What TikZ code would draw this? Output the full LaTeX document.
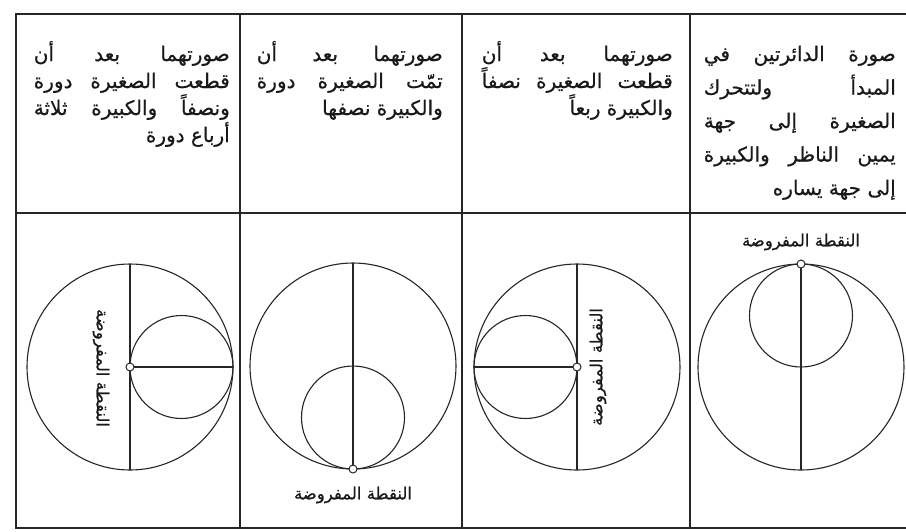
\documentclass[tikz,border=0pt]{standalone}
\usepackage{fontspec}
\newfontfamily\arabicfont[Script=Arabic,FakeBold=0.6]{DejaVu Sans}
\TeXXeTstate=1
\newcommand{\jline}[2]{\hbox to #1{\beginR #2\endR}}
\newcommand{\rline}[2]{\hbox to #1{\hfill\beginR #2\endR}}
\newcommand{\lines}[2]{\vtop{\baselineskip=#1\lineskiplimit=-20pt #2}}
\tikzset{
  frame/.style={line width=1.4pt, draw=black!85},
  geo/.style={line width=1.1pt, draw=black!85},
  marker/.style={circle, draw=black!85, line width=1pt, fill=white, inner sep=0pt, minimum size=8pt},
  head/.style={anchor=base east, inner sep=0pt, font=\arabicfont\fontsize{20}{26}\selectfont, text=black!90},
  lbl/.style={inner sep=0pt, font=\arabicfont\fontsize{16.5}{18}\selectfont, text=black!90},
}
\begin{document}
\begin{tikzpicture}[x=1pt,y=-1pt]
\useasboundingbox[fill=white] (0,0) rectangle (906,531);
% frame
\coordinate (tl) at (16,14);
\coordinate (tr) at (906,14);
\coordinate (bl) at (16,528);
\coordinate (br) at (906,528);
\coordinate (ml) at (16,213);
\coordinate (mr) at (906,213);
\draw[frame] (tr) -- (tl) -- (bl) -- (br);
\draw[frame] (ml) -- (mr);
\foreach \x/\n in {240/a,462/b,690/c}{
  \coordinate (d\n t) at (\x,14);
  \coordinate (d\n b) at (\x,528);
  \draw[frame] (d\n t) -- (d\n b);
}
% header texts
\node[head] (h1) at (230,61) {\lines{27pt}{%
  \jline{196pt}{صورتهما بعد أن}
  \jline{196pt}{قطعت الصغيرة دورة}
  \jline{196pt}{ونصفاً والكبيرة ثلاثة}
  \rline{196pt}{أرباع دورة}}};
\node[head] (h2) at (443,61) {\lines{27pt}{%
  \jline{186pt}{صورتهما بعد أن}
  \jline{186pt}{تمّت الصغيرة دورة}
  \rline{186pt}{والكبيرة نصفها}}};
\node[head] (h3) at (673,61) {\lines{27pt}{%
  \jline{191pt}{صورتهما بعد أن}
  \jline{191pt}{قطعت الصغيرة نصفاً}
  \rline{191pt}{والكبيرة ربعاً}}};
\node[head] (h4) at (896,61) {\lines{33.5pt}{%
  \jline{192pt}{صورة الدائرتين في}
  \jline{192pt}{المبدأ ولتتحرك}
  \jline{192pt}{الصغيرة إلى جهة}
  \jline{192pt}{يمين الناظر والكبيرة}
  \rline{192pt}{إلى جهة يساره}}};
% column 1
\coordinate (c1) at (130,367);
\coordinate (s1) at (181.5,367);
\coordinate (c1t) at (130,264);
\coordinate (c1b) at (130,470);
\coordinate (c1r) at (233,367);
\draw[geo] (c1) circle[radius=103];
\draw[geo] (s1) circle[radius=51.5];
\draw[geo] (c1t) -- (c1b);
\draw[geo] (c1) -- (c1r);
\node[marker] (p1) at (c1) {};
\node[lbl, rotate=-90] (l1) at (101,368) {\beginR النقطة المفروضة\endR};
% column 2
\coordinate (c2) at (353,366);
\coordinate (s2) at (353,417.5);
\coordinate (c2t) at (353,263);
\coordinate (c2b) at (353,469);
\draw[geo] (c2) circle[radius=103];
\draw[geo] (s2) circle[radius=51.5];
\draw[geo] (c2t) -- (c2b);
\node[marker] (p2) at (c2b) {};
\node[lbl] (l2) at (353,495) {\beginR النقطة المفروضة\endR};
% column 3
\coordinate (c3) at (577,367);
\coordinate (s3) at (525.5,367);
\coordinate (c3t) at (577,264);
\coordinate (c3b) at (577,470);
\coordinate (c3l) at (474,367);
\draw[geo] (c3) circle[radius=103];
\draw[geo] (s3) circle[radius=51.5];
\draw[geo] (c3t) -- (c3b);
\draw[geo] (c3l) -- (c3);
\node[marker] (p3) at (c3) {};
\node[lbl, rotate=90] (l3) at (598,367) {\beginR النقطة المفروضة\endR};
% column 4
\coordinate (c4) at (801,367);
\coordinate (s4) at (801,315.5);
\coordinate (c4t) at (801,264);
\coordinate (c4b) at (801,470);
\draw[geo] (c4) circle[radius=103];
\draw[geo] (s4) circle[radius=51.5];
\draw[geo] (c4t) -- (c4b);
\node[marker] (p4) at (c4t) {};
\node[lbl] (l4) at (801,242) {\beginR النقطة المفروضة\endR};
\end{tikzpicture}
\end{document}
